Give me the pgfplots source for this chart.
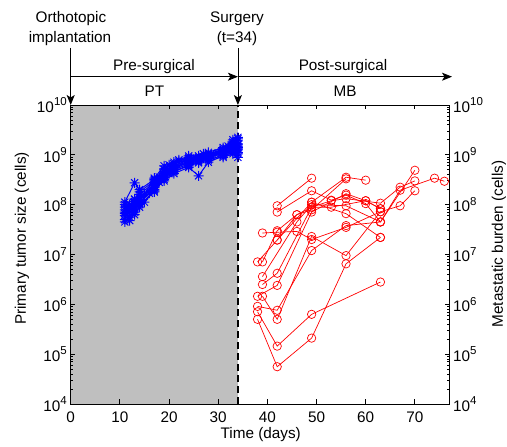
\documentclass[border=0pt]{standalone}
\usepackage{fontspec}
\setmainfont{Liberation Sans}
\usepackage{pgfplots}
\pgfplotsset{compat=1.18}
\usetikzlibrary{arrows.meta}
\definecolor{bgray}{RGB}{191,191,191}
\pgfdeclareplotmark{mstar}{%
  \pgfpathmoveto{\pgfqpoint{-\pgfplotmarksize}{0pt}}\pgfpathlineto{\pgfqpoint{\pgfplotmarksize}{0pt}}%
  \pgfpathmoveto{\pgfqpoint{0pt}{-\pgfplotmarksize}}\pgfpathlineto{\pgfqpoint{0pt}{\pgfplotmarksize}}%
  \pgfpathmoveto{\pgfqpoint{-0.707\pgfplotmarksize}{-0.707\pgfplotmarksize}}\pgfpathlineto{\pgfqpoint{0.707\pgfplotmarksize}{0.707\pgfplotmarksize}}%
  \pgfpathmoveto{\pgfqpoint{-0.707\pgfplotmarksize}{0.707\pgfplotmarksize}}\pgfpathlineto{\pgfqpoint{0.707\pgfplotmarksize}{-0.707\pgfplotmarksize}}%
  \pgfusepathqstroke}
\newcommand\tp[1]{10\raisebox{6.5pt}{\fontsize{11.5}{12}\selectfont #1}}
\pgfplotsset{
  pt/.style={color=blue, line width=1pt, mark=mstar, mark size=5pt, mark options={solid}},
  mb/.style={color=red, line width=0.7pt, mark=o, mark size=4.2pt, mark options={solid}},
}
\begin{document}
\fontsize{15.3}{18}\selectfont
\begin{tikzpicture}
\useasboundingbox (0,0) rectangle (507pt,447pt);
\begin{axis}[
  at={(70.7pt,43pt)}, anchor=south west, scale only axis,
  width=378.6pt, height=299pt,
  xmin=0, xmax=77, ymode=log, ymin=1e4, ymax=1e10,
  xtick={0,10,20,30,40,50,60,70},
  xticklabels={0,10,20,30,40,50,60,70},
  ytick={1e4,1e5,1e6,1e7,1e8,1e9,1e10},
  yticklabels={\tp{4},\tp{5},\tp{6},\tp{7},\tp{8},\tp{9},\tp{10}},
  axis on top,
  axis line style={line width=0.9pt},
  tick style={black, line width=0.8pt},
  major tick length=4.5pt, minor tick length=2.5pt,
  xticklabel style={inner sep=0pt, yshift=-7.7pt},
  yticklabel style={inner sep=0pt, xshift=-3.7pt},
  xlabel={Time (days)},
  xlabel style={at={(axis description cs:0.502,-0.117)}, anchor=base},
  ylabel={Primary tumor size (cells)},
  ylabel style={at={(axis description cs:-0.1286,0.5535)}, anchor=center},
]
\addplot[fill=bgray, draw=none, forget plot] coordinates {(0,1e4) (34,1e4) (34,1e10) (0,1e10)} --cycle;
\addplot[black, line width=1.5pt, dash pattern=on 7pt off 4pt, forget plot] coordinates {(34,1e4) (34,1e10)};
% primary tumor (PT)
\addplot[pt] coordinates {(11,5.0e7) (13,9.0e7) (14,1.1e8) (17,2.2e8) (19,3.5e8) (21,5.0e8) (24,6.6e8) (26,7.6e8) (28,8.9e8) (31,1.05e9) (33,1.26e9) (34,1.41e9)};
\addplot[pt] coordinates {(11,7.1e7) (13,1.26e8) (14,1.6e8) (17,2.8e8) (19,4.2e8) (21,5.6e8) (24,7.6e8) (26,8.3e8) (28,9.5e8) (31,1.2e9) (33,1.5e9) (34,1.66e9)};
\addplot[pt] coordinates {(11,1.12e8) (13,2.75e8) (14,2.0e8) (17,3.2e8) (19,5.0e8) (21,6.6e8) (24,8.9e8) (26,9.5e8) (28,1.05e9) (31,1.3e9) (33,1.8e9) (34,2.1e9)};
\addplot[pt] coordinates {(11,4.5e7) (13,6.3e7) (14,8.9e7) (17,2.0e8) (19,3.0e8) (21,4.2e8) (24,5.6e8) (26,3.8e8) (28,7.1e8) (31,9.5e8) (33,1.12e9) (34,1.26e9)};
\addplot[pt] coordinates {(12,5.6e7) (13,7.9e7) (14,1.26e8) (17,2.5e8) (19,3.8e8) (21,5.2e8) (24,7.1e8) (26,7.9e8) (28,9.1e8) (31,1.12e9) (33,1.3e9) (34,1.12e9)};
\addplot[pt] coordinates {(11,8.9e7) (12,1.0e8) (14,1.4e8) (17,2.6e8) (19,4.6e8) (21,6.0e8) (24,7.9e8) (26,8.9e8) (28,1.0e9) (31,1.26e9) (33,1.6e9) (34,1.9e9)};
\addplot[pt] coordinates {(11,6.0e7) (13,1.05e8) (14,1.0e8) (17,1.8e8) (18,2.8e8) (20,4.2e8) (24,6.3e8) (26,7.2e8) (28,8.3e8) (31,8.9e8) (33,1.05e9) (34,8.9e8)};
\addplot[pt] coordinates {(11,7.9e7) (12,7.1e7) (14,1.2e8) (17,2.4e8) (18,3.3e8) (20,5.0e8) (24,7.2e8) (26,8.5e8) (28,9.8e8) (31,1.15e9) (33,1.38e9) (34,1.58e9)};
\addplot[pt] coordinates {(12,4.8e7) (13,7.1e7) (15,1.12e8) (17,1.9e8) (19,3.2e8) (21,4.6e8) (24,6.0e8) (26,6.9e8) (28,7.9e8) (31,1.0e9) (33,1.2e9) (34,1.32e9)};
\addplot[pt] coordinates {(11,1.0e8) (13,1.3e8) (14,1.8e8) (17,3.0e8) (19,5.2e8) (21,7.1e8) (24,9.5e8) (27,1.05e9) (28,1.12e9) (31,1.4e9) (33,2.0e9) (34,2.24e9)};
\addplot[pt] coordinates {(11,6.6e7) (12,8.5e7) (14,1.05e8) (16,1.7e8) (18,3.6e8) (20,6.3e8) (22,7.4e8) (25,8.1e8) (27,8.7e8) (30,1.1e9) (32,1.25e9) (34,1.05e9)};
\addplot[pt] coordinates {(12,9.0e7) (13,1.15e8) (15,1.6e8) (17,3.4e8) (19,6.0e8) (22,7.9e8) (24,8.4e8) (27,9.1e8) (29,1.0e9) (32,1.5e9) (33,1.7e9) (34,1.45e9)};
% metastatic burden (MB)
\addplot[mb] coordinates {(38,7.1e5) (42,1.45e5) (49,6.3e5) (63,2.8e6)};
\addplot[mb] coordinates {(38,5.0e5) (42,5.6e4) (49,2.1e5) (56,6.5e6) (63,2.2e7)};
\addplot[mb] coordinates {(38,9.1e5) (42,7.6e5) (49,1.2e7) (56,3.8e7) (63,4.5e7) (70,4.9e8)};
\addplot[mb] coordinates {(39,1.45e6) (42,5.0e5) (49,2.3e7) (56,9.5e6) (63,7.2e7)};
\addplot[mb] coordinates {(38,1.45e6) (42,2.4e6) (49,7.1e7) (56,1.66e8) (60,1.2e8) (63,8.3e7)};
\addplot[mb] coordinates {(39,2.5e6) (42,4.2e6) (49,8.9e7) (53,1.2e8) (56,1.32e8) (63,1.07e8) (67,2.24e8) (70,3.0e8)};
\addplot[mb] coordinates {(39,3.6e6) (46,4.5e7) (49,1.0e8) (56,9.5e7) (63,4.5e7) (67,1.95e8) (74,3.4e8) (76,2.95e8)};
\addplot[mb] coordinates {(38,7.1e6) (42,1.95e7) (49,1.12e8) (56,3.55e8) (60,3.1e8)};
\addplot[mb] coordinates {(39,7.1e6) (42,3.0e7) (46,6.3e7) (49,7.9e7) (56,3.3e8)};
\addplot[mb] coordinates {(39,2.7e7) (42,2.8e7) (46,2.9e7) (49,2.0e7) (56,3.5e7) (63,7.2e7) (67,9.5e7) (70,1.9e8)};
\addplot[mb] coordinates {(42,9.5e7) (49,3.4e8)};
\addplot[mb] coordinates {(42,7.1e7) (49,1.9e8) (53,1.23e8) (56,1.55e8) (60,1.05e8) (63,4.5e7)};
\addplot[mb] coordinates {(42,1.95e7) (46,6.3e7) (49,8.9e7) (53,8.9e7) (60,1.2e8) (63,8.3e7)};
\addplot[mb] coordinates {(49,1.12e8) (56,6.6e7) (63,2.2e7)};
\end{axis}
\begin{axis}[
  at={(70.7pt,43pt)}, anchor=south west, scale only axis,
  width=378.6pt, height=299pt,
  xmin=0, xmax=77, ymode=log, ymin=1e4, ymax=1e10,
  hide x axis, axis y line*=right,
  axis line style={draw=none}, tick style={draw=none},
  ytick={1e4,1e5,1e6,1e7,1e8,1e9,1e10},
  yticklabels={\tp{4},\tp{5},\tp{6},\tp{7},\tp{8},\tp{9},\tp{10}},
  yticklabel style={inner sep=0pt, xshift=3.7pt},
  ylabel={Metastatic burden (cells)},
  ylabel style={at={(axis description cs:1.131,0.535)}, anchor=center},
]
\end{axis}
% annotations
\draw[-{Stealth[length=10pt,width=8pt,inset=2.5pt]}, line width=0.8pt] (70.7pt,399pt) -- (70.7pt,342pt);
\draw[-{Stealth[length=10pt,width=8pt,inset=2.5pt]}, line width=0.8pt] (237.9pt,399pt) -- (237.9pt,342pt);
\draw[-{Stealth[length=10pt,width=8pt,inset=2.5pt]}, line width=0.8pt] (70.7pt,370.3pt) -- (237.9pt,370.3pt);
\draw[-{Stealth[length=10pt,width=8pt,inset=2.5pt]}, line width=0.8pt] (237.9pt,370.3pt) -- (452pt,370.3pt);
\node[anchor=base, inner sep=0pt] at (71pt,424.3pt) {Orthotopic};
\node[anchor=base, inner sep=0pt] at (70pt,404.3pt) {implantation};
\node[anchor=base, inner sep=0pt] at (237pt,424.3pt) {Surgery};
\node[anchor=base, inner sep=0pt] at (237pt,404.3pt) {(t=34)};
\node[anchor=base, inner sep=0pt] at (154pt,376pt) {Pre-surgical};
\node[anchor=base, inner sep=0pt] at (343pt,376pt) {Post-surgical};
\node[anchor=base, inner sep=0pt] at (154.5pt,350.5pt) {PT};
\node[anchor=base, inner sep=0pt] at (345pt,350.5pt) {MB};
\end{tikzpicture}
\end{document}
